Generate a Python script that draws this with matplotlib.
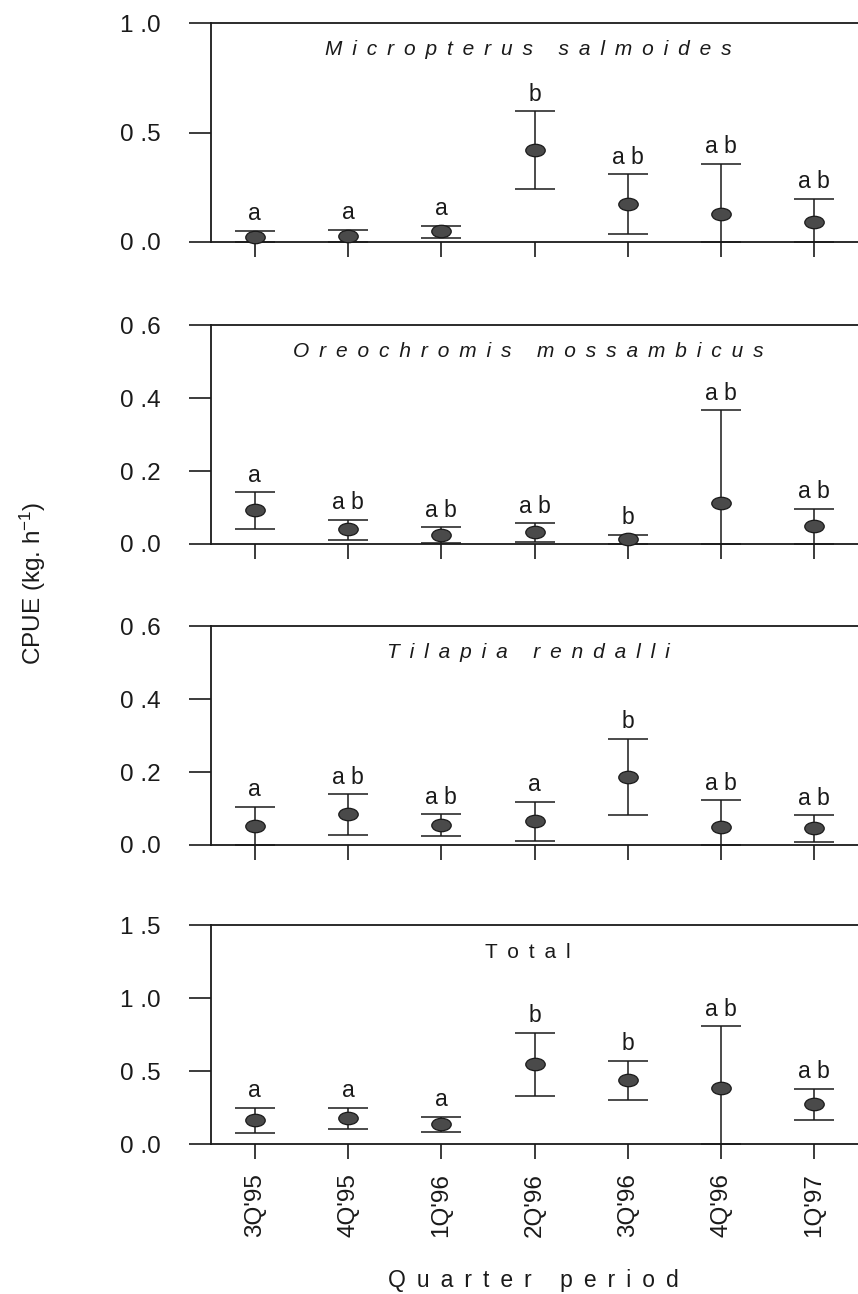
import numpy as np
import matplotlib
matplotlib.use('Agg')
import matplotlib.pyplot as plt
from matplotlib.markers import MarkerStyle
from matplotlib.transforms import Affine2D

plt.rcParams['font.family'] = ['Liberation Sans', 'DejaVu Sans']
plt.rcParams['mathtext.default'] = 'regular'

quarters = ["3Q'95", "4Q'95", "1Q'96", "2Q'96", "3Q'96", "4Q'96", "1Q'97"]

# CPUE mean, upper and lower limits per quarter
ms_mean = [0.021, 0.029, 0.050, 0.418, 0.175, 0.129, 0.093]
ms_upper = [0.052, 0.055, 0.074, 0.596, 0.310, 0.356, 0.198]
ms_lower = [0.0, 0.0, 0.020, 0.240, 0.036, 0.0, 0.0]
ms_groups = ['a', 'a', 'a', 'b', 'a b', 'a b', 'a b']

om_mean = [0.092, 0.040, 0.026, 0.033, 0.014, 0.113, 0.050]
om_upper = [0.142, 0.067, 0.046, 0.057, 0.025, 0.367, 0.096]
om_lower = [0.041, 0.012, 0.004, 0.005, 0.0, 0.0, 0.0]
om_groups = ['a', 'a b', 'a b', 'a b', 'b', 'a b', 'a b']

tr_mean = [0.051, 0.084, 0.055, 0.065, 0.187, 0.050, 0.046]
tr_upper = [0.104, 0.139, 0.084, 0.119, 0.291, 0.123, 0.082]
tr_lower = [0.0, 0.027, 0.025, 0.010, 0.082, 0.0, 0.009]
tr_groups = ['a', 'a b', 'a b', 'a', 'b', 'a b', 'a b']

tot_mean = [0.165, 0.178, 0.137, 0.549, 0.437, 0.382, 0.275]
tot_upper = [0.247, 0.247, 0.185, 0.762, 0.572, 0.808, 0.378]
tot_lower = [0.078, 0.105, 0.085, 0.330, 0.300, 0.0, 0.165]
tot_groups = ['a', 'a', 'a', 'b', 'b', 'a b', 'a b']

panels = [
    ('Micropterus salmoides', True, ms_mean, ms_upper, ms_lower, ms_groups, 1.0, [0.0, 0.5, 1.0]),
    ('Oreochromis mossambicus', True, om_mean, om_upper, om_lower, om_groups, 0.6, [0.0, 0.2, 0.4, 0.6]),
    ('Tilapia rendalli', True, tr_mean, tr_upper, tr_lower, tr_groups, 0.6, [0.0, 0.2, 0.4, 0.6]),
    ('Total', False, tot_mean, tot_upper, tot_lower, tot_groups, 1.5, [0.0, 0.5, 1.0, 1.5]),
]

# axes bottoms in figure fraction
bottoms = [0.813, 0.5796, 0.347, 0.1159]
INK = '#1a1a1a'


def spaced(text, gap=' \u2009'):
    return gap.join(text)


fig = plt.figure(figsize=(8.58, 12.94), dpi=100)
x = np.arange(1, len(quarters) + 1)
dot = MarkerStyle('o', transform=Affine2D().scale(1.0, 0.64))

for (title, italic, mean, upper, lower, groups, ymax, yticks), bottom in zip(panels, bottoms):
    ax = fig.add_axes([0.2459, bottom, 0.7576, 0.1692])
    mean = np.array(mean)
    yerr = [mean - np.array(lower), np.array(upper) - mean]
    ax.errorbar(x, mean, yerr=yerr, fmt='none', ecolor=INK, elinewidth=1.1,
                capsize=14.5, capthick=1.1, zorder=3)
    ax.plot(x, mean, linestyle='none', marker=dot, markersize=14,
            markerfacecolor='#4a4a4a', markeredgecolor=INK, markeredgewidth=0.9,
            zorder=4, clip_on=False)
    for xi, up, g in zip(x, upper, groups):
        ax.annotate(g, (xi, up), xytext=(0, 4), textcoords='offset points',
                    ha='center', va='bottom', fontsize=16.5, color=INK)

    ax.set_xlim(0.53, 7.5)
    ax.set_ylim(0, ymax)
    ax.set_yticks(yticks)
    ax.set_yticklabels([f'{t:.1f}'.replace('.', ' .') for t in yticks], fontsize=17.5)
    ax.set_xticks(x)
    if bottom == bottoms[-1]:
        ax.set_xticklabels(quarters, rotation=90, fontsize=17.5)
    else:
        ax.set_xticklabels([])
    ax.tick_params(axis='y', direction='out', length=16, width=1.2, pad=20, colors=INK)
    ax.tick_params(axis='x', direction='out', length=11, width=1.2, pad=10, colors=INK)
    for sp in ax.spines.values():
        sp.set_linewidth(1.3)
        sp.set_color(INK)

    ax.text(0.488, 0.877, spaced(title), transform=ax.transAxes, ha='center', va='center',
            fontsize=15, style='italic' if italic else 'normal', color=INK)

fig.text(0.038, 0.549, 'CPUE (kg. h$^{-1}$)', rotation=90, ha='center', va='center',
         fontsize=17.5, color=INK)
fig.text(0.622, 0.0054, spaced('Quarter period'), ha='center', va='baseline',
         fontsize=16.5, color=INK)

fig.savefig('out.png', dpi=100, facecolor='white')
